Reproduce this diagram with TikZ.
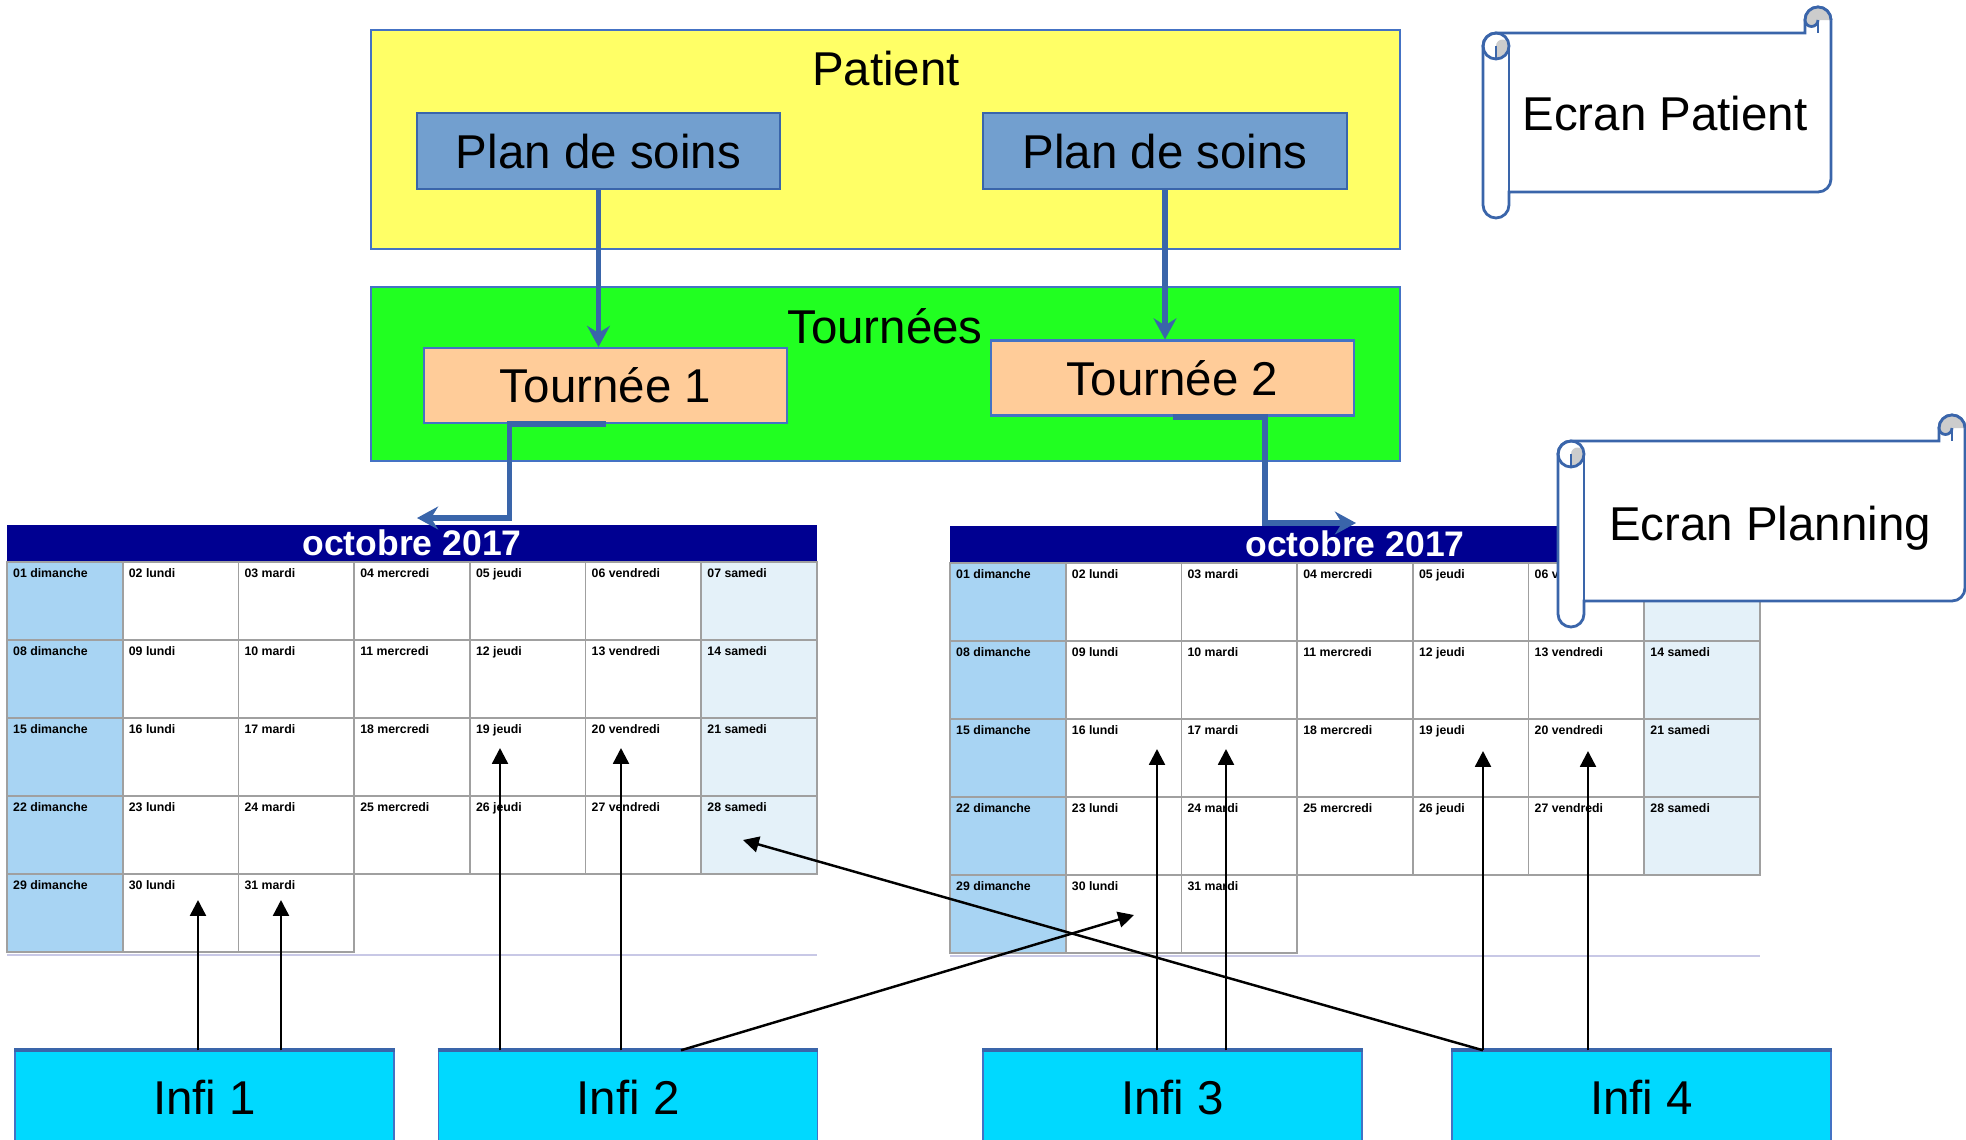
\documentclass[tikz,border=0pt]{standalone}
\usepackage{fontspec}
\setmainfont{Liberation Sans}
\usepackage{tikz}
\usetikzlibrary{calc}
\usetikzlibrary{positioning}
\usetikzlibrary{arrows.meta}
\definecolor{jaunePatient}{HTML}{FFFF66}
\definecolor{vertTournee}{HTML}{21FF21}
\definecolor{bleuPlan}{HTML}{729FCF}
\definecolor{orangeTournee}{HTML}{FFCC99}
\definecolor{cyanInfi}{HTML}{00D9FF}
\definecolor{bleuTrait}{HTML}{3A65AA}
\definecolor{bleuCadre}{HTML}{4472C4}
\definecolor{marineEntete}{HTML}{000091}
\definecolor{dimancheBleu}{HTML}{A8D4F3}
\definecolor{samediBleu}{HTML}{E4F1F9}
\definecolor{grisCase}{HTML}{A0A0A0}
\definecolor{lavande}{HTML}{C8C8E6}
\definecolor{grisRouleau}{HTML}{CCCCCC}

\begin{document}
\begin{tikzpicture}[x=0.01cm, y=-0.01cm, >=Stealth, every node/.style={font=\fontsize{13.5}{15}\selectfont, text depth=0pt}]
	\tikzset{bloc/.style={draw=bleuCadre, line width=0.6pt, minimum width=10.29cm},
		plan/.style={draw=bleuTrait, line width=0.6pt, fill=bleuPlan, minimum width=3.63cm, minimum height=0.76cm},
		tournee/.style={draw=bleuCadre, line width=0.6pt, fill=orangeTournee, minimum width=3.63cm, minimum height=0.75cm},
		infi/.style={draw=bleuCadre, line width=0.4pt, fill=cyanInfi, minimum width=3.79cm, minimum height=0.92cm},
		bordInfi/.style={draw=bleuTrait, line width=1.2pt},
		lien/.style={draw=bleuTrait, line width=1.7pt, -{Stealth[length=6pt,width=6.5pt,inset=2pt]}},
		fleche/.style={line width=0.7pt, -{Triangle[length=4.5pt,width=4.5pt]}},
		case/.style={draw=grisCase, line width=0.5pt},
		jour/.style={anchor=north west, inner sep=0pt, font=\fontsize{3.5}{4}\selectfont\bfseries},
		titre/.style={text=white, inner sep=0pt, font=\fontsize{10.1}{12}\selectfont\bfseries},
		rouleauTrait/.style={draw=bleuTrait, line width=0.8pt},
		pics/mois/.style={code={
			\fill[marineEntete] (0,0) rectangle (810,37);
			\node[titre] (-titre) at (405,18) {octobre 2017};
			\foreach \jj in {1,...,31}{
				\pgfmathtruncatemacro\colj{mod(\jj-1,7)}
				\pgfmathtruncatemacro\ligj{div(\jj-1,7)}
				\ifnum\colj=0 \def\fond{dimancheBleu}\else\ifnum\colj=6 \def\fond{samediBleu}\else\def\fond{white}\fi\fi
				\draw[case, fill=\fond] (\colj*115.7,37+\ligj*78) rectangle ++(115.7,78);
				\node[jour] (-j\jj) at (\colj*115.7+5.5,42.5+\ligj*78)
					{\ifnum\jj<10 0\fi\jj\ \ifcase\colj\relax dimanche\or lundi\or mardi\or mercredi\or jeudi\or vendredi\or samedi\fi};
			}
			\draw[lavande, line width=0.7pt] (0,430) -- (810,430);
		}},
		pics/rouleau/.style 2 args={code={
			\draw[rouleauTrait, fill=white] (0,39) arc[start angle=180, end angle=270, radius=13] -- (#1-26,26) -- (#1-26,13)
				arc[start angle=180, end angle=360, radius=13] -- (#1,#2-39) arc[start angle=0, end angle=90, radius=13]
				-- (26,#2-26) -- (26,#2-13) arc[start angle=0, end angle=180, radius=13] -- cycle;
			\fill[grisRouleau] (13,52) arc[start angle=90, end angle=0, radius=13] arc[start angle=0, end angle=-180, radius=6.5] -- cycle;
			\draw[rouleauTrait] (13,39) circle[radius=13];
			\draw[rouleauTrait] (13,39) -- (13,52);
			\draw[rouleauTrait] (26,39) -- (26,#2-26);
			\fill[grisRouleau] (#1-26,13) arc[start angle=180, end angle=360, radius=13] -- (#1-13,13) arc[start angle=0, end angle=180, radius=6.5] -- cycle;
			\draw[rouleauTrait] (#1-26,13) arc[start angle=180, end angle=360, radius=13];
			\draw[rouleauTrait] (#1-13,13) -- (#1-13,26);
			\draw[rouleauTrait] (#1-13,13) arc[start angle=0, end angle=180, radius=6.5];
		}}}
	\useasboundingbox (0,0) rectangle (1966,1139);
	\clip (0,0) rectangle (1966,1139);

	\node[bloc, fill=jaunePatient, minimum height=2.19cm] (patient) at (885.5,139.5) {};
	\node (titrePatient) at (886,68) {Patient};
	\node[plan] (plan1) at (598.5,151) {Plan de soins};
	\node[plan] (plan2) at (1165,151) {Plan de soins};
	\node[bloc, fill=vertTournee, minimum height=1.74cm] (tournees) at (885.5,374) {};
	\node (titreTournees) at (885,326) {Tournées};
	\node[tournee] (tournee1) at (605.5,385.5) {Tournée 1};
	\node[tournee] (tournee2) at (1172.5,378) {Tournée 2};

	\pic (calG) at (7,525) {mois};
	\pic (calD) at (950,526) {mois};

	\draw[lien] (plan1.south) -- (plan1.south |- tournee1.north);
	\draw[lien] (plan2.south) -- (plan2.south |- tournee2.north);
	\coordinate (bout1) at (417,518);
	\coordinate (bout2) at (1356,523);
	\draw[lien] (tournee1.south) -- ++(-96,0) |- (bout1);
	\draw[lien] (tournee2.south) -- ++(92.5,0) |- (bout2);

	\pic (ecranA) at (1483,7) {rouleau={348}{211}};
	\node (ecranPatient) at (1665,113) {Ecran Patient};
	\pic (ecranB) at (1558,415) {rouleau={407}{212}};
	\node (ecranPlanning) at (1770,523) {Ecran Planning};

	\node[infi] (infi1) at (204.5,1097) {Infi 1};
	\node[infi] (infi2) at (628,1097) {Infi 2};
	\node[infi] (infi3) at (1172.5,1097) {Infi 3};
	\node[infi] (infi4) at (1641.5,1097) {Infi 4};
	\foreach \i in {1,...,4}
		\draw[bordInfi] (infi\i.north west) -- (infi\i.north east);

	\coordinate (g30) at (198,900);
	\coordinate (g31) at (281,900);
	\coordinate (g19) at (500,748);
	\coordinate (g20) at (621,748);
	\coordinate (g28) at (743,840);
	\coordinate (d30) at (1134,915);
	\coordinate (d16) at (1157,749);
	\coordinate (d17) at (1226,749);
	\coordinate (d19) at (1483,751);
	\coordinate (d20) at (1588,751);
	\draw[fleche] (g30 |- infi1.north) -- (g30);
	\draw[fleche] (g31 |- infi1.north) -- (g31);
	\draw[fleche] (g19 |- infi2.north) -- (g19);
	\draw[fleche] (g20 |- infi2.north) -- (g20);
	\draw[fleche] ($(infi2.north)+(53,0)$) -- (d30);
	\draw[fleche] (d16 |- infi3.north) -- (d16);
	\draw[fleche] (d17 |- infi3.north) -- (d17);
	\draw[fleche] (d19 |- infi4.north) -- (d19);
	\draw[fleche] (d20 |- infi4.north) -- (d20);
	\draw[fleche] (d19 |- infi4.north) -- (g28);
\end{tikzpicture}
\end{document}
